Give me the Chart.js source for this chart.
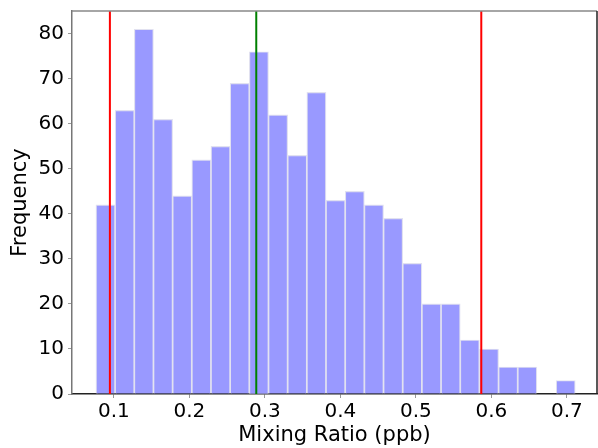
<!DOCTYPE html>
<html>
<head>
<meta charset="utf-8">
<script src="https://cdn.jsdelivr.net/npm/chart.js@4/dist/chart.umd.min.js"></script>
<style>
  html, body { margin: 0; padding: 0; background: #fff; }
  #wrap { width: 598px; height: 448px; }
</style>
</head>
<body>
<div id="wrap"><canvas id="c" width="598" height="448"></canvas></div>
<script>
// Histogram bin centres (ppb) and counts
const binCenters = [0.0889, 0.1143, 0.1397, 0.1651, 0.1905, 0.2159, 0.2413, 0.2667, 0.2921, 0.3175,
                    0.3429, 0.3683, 0.3937, 0.4191, 0.4445, 0.4699, 0.4953, 0.5207, 0.5461, 0.5715,
                    0.5969, 0.6223, 0.6477, 0.6731, 0.6985];
const counts = [42, 63, 81, 61, 44, 52, 55, 69, 76, 62,
                53, 67, 43, 45, 42, 39, 29, 20, 20, 12,
                10, 6, 6, 0, 3];
// Reference vertical lines
const lowerLine = 0.0947;
const medianLine = 0.2886;
const upperLine = 0.5867;
// Axis settings
const xMin = 0.0445, xMax = 0.740;
const yMax = 85.05;
const xTicks = [0.1, 0.2, 0.3, 0.4, 0.5, 0.6, 0.7];
const yTicks = [0, 10, 20, 30, 40, 50, 60, 70, 80];

const FONT = 'DejaVu Sans';

const vline = (x, color) => ({
  type: 'line',
  data: [{x: x, y: 0}, {x: x, y: yMax}],
  borderColor: color,
  borderWidth: 2,
  pointRadius: 0,
  fill: false,
  order: 0
});

const framePlugin = {
  id: 'frame',
  afterDraw(chart) {
    const {ctx, chartArea: a} = chart;
    ctx.save();
    ctx.lineWidth = 1.5;
    ctx.strokeStyle = '#888';
    ctx.beginPath(); ctx.moveTo(a.left, a.top); ctx.lineTo(a.right, a.top); ctx.stroke();
    ctx.strokeStyle = '#222';
    ctx.beginPath(); ctx.moveTo(a.right, a.top); ctx.lineTo(a.right, a.bottom); ctx.stroke();
    ctx.restore();
  }
};

new Chart(document.getElementById('c'), {
  type: 'bar',
  data: {
    datasets: [
      vline(lowerLine, '#ff0000'),
      vline(medianLine, '#008000'),
      vline(upperLine, '#ff0000'),
      {
        type: 'bar',
        data: binCenters.map((x, i) => ({x: x, y: counts[i]})),
        backgroundColor: 'rgb(153,153,255)',
        borderColor: 'rgba(225,225,240,1)',
        borderWidth: 1.2,
        barPercentage: 1,
        categoryPercentage: 1,
        order: 1
      }
    ]
  },
  options: {
    responsive: false,
    animation: false,
    events: [],
    layout: { padding: { top: 11, right: 1, left: 0, bottom: 0 } },
    plugins: { legend: { display: false }, tooltip: { enabled: false } },
    scales: {
      x: {
        type: 'linear',
        min: xMin, max: xMax,
        offset: false,
        afterBuildTicks(scale) { scale.ticks = xTicks.map(v => ({value: v})); },
        afterFit(scale) { scale.height = 54; scale.paddingLeft = 0; scale.paddingRight = 0; },
        grid: { offset: false, drawOnChartArea: false, drawTicks: true, tickLength: 4, color: '#999' },
        border: { color: '#222', width: 1.5 },
        ticks: { color: '#000', font: { family: FONT, size: 20 }, padding: 2,
                 maxRotation: 0, callback: v => v.toFixed(1) },
        title: { display: true, text: 'Mixing Ratio (ppb)', color: '#000',
                 font: { family: FONT, size: 21 }, padding: { top: 0, bottom: 0 } }
      },
      y: {
        min: 0, max: yMax,
        afterBuildTicks(scale) { scale.ticks = yTicks.map(v => ({value: v})); },
        afterFit(scale) { scale.width = 72; scale.paddingTop = 0; scale.paddingBottom = 0; },
        grid: { drawOnChartArea: false, drawTicks: true, tickLength: 4, color: '#999' },
        border: { color: '#777', width: 1.5 },
        ticks: { color: '#000', font: { family: FONT, size: 20 }, padding: 4 },
        title: { display: true, text: 'Frequency', color: '#000',
                 font: { family: FONT, size: 21 }, padding: { top: 8, bottom: 0 } }
      }
    }
  },
  plugins: [framePlugin]
});
</script>
</body>
</html>
